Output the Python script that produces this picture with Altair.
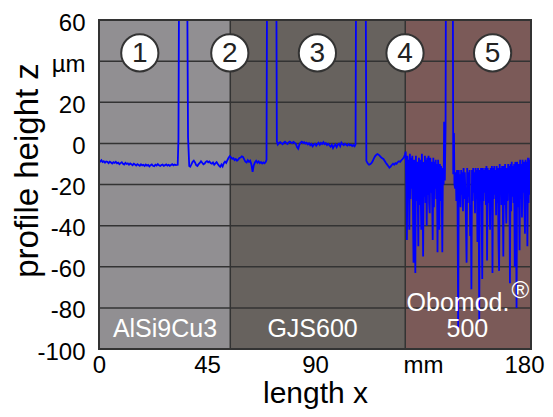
import altair as alt
import pandas as pd
import numpy as np

FONT = "Liberation Sans"

# ---------------- profile data (x in mm, z in µm) ----------------
seg1_x0, seg1_step = 0.0, 0.5
seg1_z = [-8.6, -8.9, -8.2, -9.1, -8.7, -9.4, -8.8, -9.0, -9.6, -8.9,
          -9.3, -9.8, -9.1, -9.5, -9.0, -9.7, -9.4, -10.1, -9.6, -9.2,
          -9.9, -10.3, -9.5, -10.0, -9.7, -10.4, -9.8, -10.2, -10.6, -9.9,
          -10.3, -10.8, -10.1, -10.5, -10.9, -10.2, -10.7, -10.4, -11.0, -10.3,
          -10.8, -10.5, -11.2, -10.6, -10.2, -10.9, -11.1, -10.4, -10.8, -10.1,
          -10.7, -11.0, -10.5, -10.3, -10.9, -10.6, -10.2, -10.8, -10.4, -10.9,
          -10.5, -10.1, -10.7, -10.3, -10.6]
spike1_x = [32.8, 33.1, 33.6, 36.4, 37.1, 37.6]
spike1_z = [-10.4, 2.0, 150, 150, 3.0, -11.0]

seg2_x0, seg2_step = 38.0, 0.5
seg2_z = [-11.3, -10.2, -9.0, -8.4, -9.3, -10.6, -11.0, -10.1, -9.5, -8.7,
          -9.4, -10.2, -9.8, -9.0, -8.6, -9.2, -8.8, -9.6, -9.9, -9.3,
          -10.4, -9.7, -9.1, -10.0, -10.8, -11.4, -10.3, -11.2, -9.6, -8.9,
          -9.5, -8.2, -7.0, -6.2, -6.8, -7.5, -7.2, -8.1, -7.6, -8.4,
          -7.9, -7.1, -6.9, -6.3, -6.6, -7.8, -8.9, -9.3, -8.2, -9.0,
          -8.4, -10.2, -13.8, -10.6, -9.2, -8.5, -9.4, -8.8, -9.6, -9.1,
          -9.8, -9.3, -9.7, -9.0]
spike2_x = [69.8, 70.2, 73.7, 74.1]
spike2_z = [-8.0, 150, 150, 1.0]

seg3_x0, seg3_step = 74.5, 0.5
seg3_z = [-0.6, 0.2, 0.6, 0.1, -0.4, 0.3, 0.8, 0.2, -0.3, 0.5,
          0.9, 0.4, 0.1, 0.7, 0.3, -0.2, -1.8, -2.6, -0.5, 0.4,
          0.8, 0.2, 0.6, -0.1, 0.3, -0.5, 0.1, -0.9, -0.3, -1.4,
          -0.6, -0.2, -1.1, -0.4, 0.3, -0.7, 0.2, -0.3, 0.6, -0.4,
          0.1, -0.8, -0.2, -0.9, -1.6, -0.7, -2.3, -1.2, -0.5, -1.8,
          -0.6, -0.1, -1.3, 0.4, -0.4, -0.9, -0.2, -0.7, -1.1, -0.4,
          -1.0, -0.6, -1.3, -0.8, -1.4]
spike3_x = [106.9, 107.3, 110.9, 111.4]
spike3_z = [-0.5, 150, 150, -8.5]

seg4_x0, seg4_step = 112.0, 0.5
seg4_z = [-9.8, -10.4, -10.1, -9.6, -8.7, -7.4, -6.3, -5.6, -5.2, -5.5,
          -6.1, -6.8, -7.2, -7.6, -8.5, -9.4, -10.2, -11.0, -11.8, -11.3,
          -10.5, -9.9, -10.4, -9.6, -9.9, -9.1, -8.7, -9.0, -8.2, -7.6,
          -6.9, -5.4]

seg5a_x0, seg5a_step = 127.8, 0.25
seg5a_z = [-4, -20, -47, -6, -24, -8, -42, -5, -27, -7,
           -22, -6, -30, -58, -8, -25, -63, -6, -28, -9,
           -24, -50, -7, -30, -8, -26, -42, -5, -23, -55,
           -9, -26, -6, -29, -8, -40, -7, -25, -6, -29,
           -34, -7, -24, -9, -27, -47, -7, -31, -9, -22,
           -8, -27, -10, -53, -8, -26, -42, -10, -28, -11,
           -24, -53, -12]
spike5_x = [143.6, 143.8, 144.1, 144.4, 144.7, 147.3, 147.6, 147.9, 148.1]
spike5_z = [-20, 10.5, -18, 8, 150, 150, -15, 5, -20]

seg5b_x0, seg5b_x1 = 148.4, 180.0
seg5b_z = [-22, -14, -28, -13, -30, -90, -13, -26, -15, -31,
           -13, -25, -14, -33, -12, -27, -14, -24, -40, -58,
           -12, -29, -14, -26, -13, -45, -30, -71, -13, -28,
           -12, -24, -14, -34, -12, -27, -13, -48, -12, -29,
           -87, -13, -26, -12, -31, -66, -12, -28, -13, -24,
           -12, -30, -11, -57, -12, -29, -13, -26, -42, -12,
           -28, -11, -63, -12, -27, -11, -25, -13, -35, -11,
           -29, -12, -48, -62, -10, -25, -12, -30, -11, -26,
           -55, -11, -30, -10, -27, -39, -12, -28, -10, -24,
           -11, -68, -10, -33, -9, -26, -11, -29, -10, -60,
           -9, -27, -80, -9, -31, -10, -25, -52, -8, -27,
           -10, -36, -8, -24, -9, -30, -44, -8, -26, -9,
           -50, -7, -29, -8, -25, -7, -20]


def grid_seg(x0, step, z):
    return [x0 + i * step for i in range(len(z))], list(z)


xs, zs = [], []
for sx, sz in [grid_seg(seg1_x0, seg1_step, seg1_z), (spike1_x, spike1_z),
               grid_seg(seg2_x0, seg2_step, seg2_z), (spike2_x, spike2_z),
               grid_seg(seg3_x0, seg3_step, seg3_z), (spike3_x, spike3_z),
               grid_seg(seg4_x0, seg4_step, seg4_z),
               grid_seg(seg5a_x0, seg5a_step, seg5a_z), (spike5_x, spike5_z),
               (list(np.linspace(seg5b_x0, seg5b_x1, len(seg5b_z))), seg5b_z)]:
    xs += list(sx)
    zs += list(sz)
profile = pd.DataFrame({"x": xs, "z": zs, "i": range(len(xs))})

# ---------------- regions, markers, labels ----------------
region_start = [0, 54.7, 127.6]
region_end = [54.7, 127.6, 180]
region_color = ["#918f92", "#67625e", "#7b5a58"]
regions = pd.DataFrame({"x": region_start, "x2": region_end, "c": region_color,
                        "y": [-100] * 3, "y2": [60] * 3})

boundaries = pd.DataFrame({"x": [54.7, 127.6]})
grid_vals = pd.DataFrame({"y": [-80, -60, -40, -20, 0, 20, 40]})

circle_x = [17, 54.5, 91, 127.5, 164]
circle_lbl = ["1", "2", "3", "4", "5"]
circles = pd.DataFrame({"x": circle_x, "y": [44] * 5, "t": circle_lbl})

mat_x = [27.5, 89.0, 149.6, 153.5]
mat_y = [-90.5, -90.5, -77.8, -90.5]
mat_t = ["AlSi9Cu3", "GJS600", "Obomod.", "500"]
mats = pd.DataFrame({"x": mat_x, "y": mat_y, "t": mat_t})
reg_mark = pd.DataFrame({"x": [175.6], "y": [-72.0], "t": ["®"]})

y_ticks = [-100, -80, -60, -40, -20, 0, 20, 40, 60]
x_ticks = [0, 45, 90, 135, 180]

xs_scale = alt.Scale(domain=[0, 180], nice=False, zero=False)
ys_scale = alt.Scale(domain=[-100, 60], nice=False, zero=False)

X = alt.X("x:Q", scale=xs_scale,
          axis=alt.Axis(values=x_ticks, labelExpr="datum.value == 135 ? 'mm' : toString(datum.value)",
                        title="length x", grid=False, ticks=False, domain=False,
                        labelFlush=False, labelOverlap=False,
                        labelOffset={"condition": {"test": "datum.value == 180", "value": -7}, "value": 0},
                        labelFontSize=24, labelFont=FONT, labelColor="black", labelPadding=4,
                        titleFontSize=30, titleFont=FONT, titleFontWeight="normal",
                        titleColor="black", titleY=53, titleBaseline="alphabetic"))
Y = alt.Y("y:Q", scale=ys_scale,
          axis=alt.Axis(values=y_ticks, labelExpr="datum.value == 40 ? 'µm' : toString(datum.value)",
                        title="profile height z", grid=False, ticks=False, domain=False,
                        labelFlush=False, labelOverlap=False, labelOffset=3,
                        labelFontSize=24, labelFont=FONT, labelColor="black", labelPadding=14,
                        titleFontSize=33, titleFont=FONT, titleFontWeight="normal",
                        titleColor="black", titleX=-72, titleY=150, titleBaseline="middle"))

bg = alt.Chart(regions).mark_rect().encode(
    x=X, x2="x2:Q", y=Y, y2="y2:Q", color=alt.Color("c:N", scale=None))

grid = alt.Chart(grid_vals).mark_rule(color="#333333", strokeWidth=1.5).encode(
    y=alt.Y("y:Q", scale=ys_scale))
bnd = alt.Chart(boundaries).mark_rule(color="#333333", strokeWidth=1.5).encode(
    x=alt.X("x:Q", scale=xs_scale))

line = alt.Chart(profile).mark_line(color="#0000ff", strokeWidth=1.8, clip=True).encode(
    x=alt.X("x:Q", scale=xs_scale), y=alt.Y("z:Q", scale=ys_scale), order="i:Q")

circ = alt.Chart(circles).mark_circle(size=1385, color="white", opacity=1,
                                      stroke="#333333", strokeWidth=2).encode(
    x=alt.X("x:Q", scale=xs_scale), y=alt.Y("y:Q", scale=ys_scale))
circ_t = alt.Chart(circles).mark_text(fontSize=28, font=FONT, color="#222222",
                                      baseline="middle", dy=1).encode(
    x=alt.X("x:Q", scale=xs_scale), y=alt.Y("y:Q", scale=ys_scale), text="t:N")

mat_txt = alt.Chart(mats).mark_text(fontSize=25, font=FONT, color="white",
                                    baseline="middle").encode(
    x=alt.X("x:Q", scale=xs_scale), y=alt.Y("y:Q", scale=ys_scale), text="t:N")
reg_txt = alt.Chart(reg_mark).mark_text(fontSize=24, font=FONT, color="white",
                                        baseline="middle").encode(
    x=alt.X("x:Q", scale=xs_scale), y=alt.Y("y:Q", scale=ys_scale), text="t:N")

frame = alt.Chart(pd.DataFrame({"x": [0], "x2": [180], "y": [-100], "y2": [60]})).mark_rect(
    filled=False, stroke="#333333", strokeWidth=2).encode(
    x=alt.X("x:Q", scale=xs_scale), x2="x2:Q", y=alt.Y("y:Q", scale=ys_scale), y2="y2:Q")

chart = alt.layer(bg, grid, bnd, line, circ, circ_t, mat_txt, reg_txt, frame).properties(
    width=432, height=329,
    autosize=alt.AutoSizeParams(type="none"),
    padding={"left": 91, "top": 12, "right": 14, "bottom": 60},
).configure_view(stroke=None).configure(background="white")

chart.save("out.html", embed_options={"renderer": "svg", "actions": False})
